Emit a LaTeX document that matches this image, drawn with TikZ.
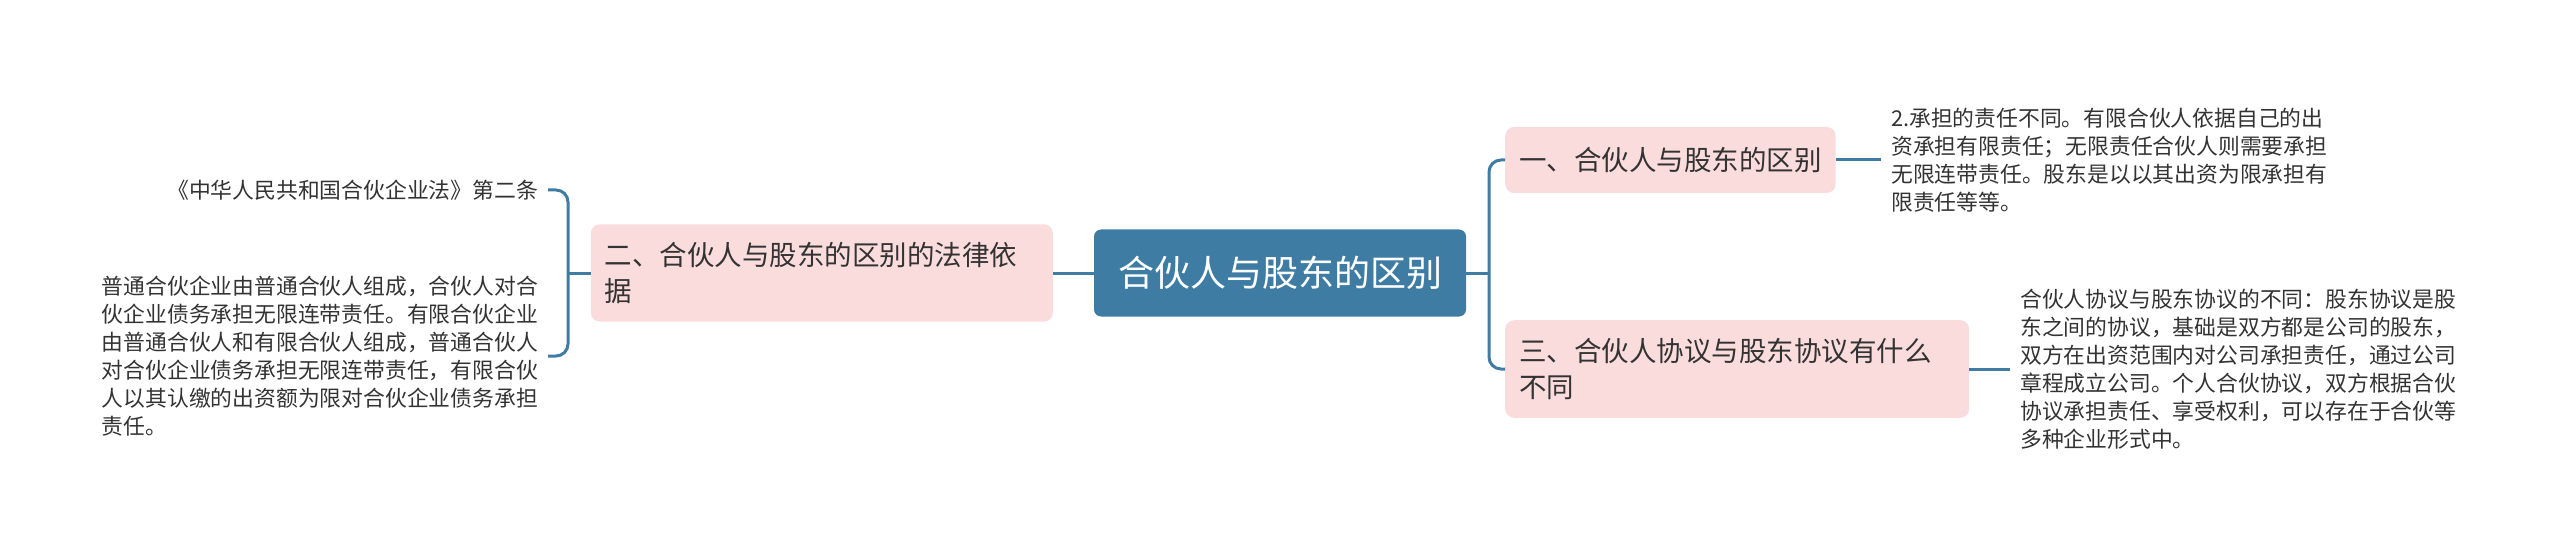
\documentclass[tikz,border=0pt]{standalone}
\usepackage{fontspec}
\usepackage{xcolor}
\usepackage{tikz}
\usetikzlibrary{positioning}
\newfontfamily\cjk{Noto Sans CJK SC}
\definecolor{rootblue}{HTML}{3F7CA4}
\definecolor{branchpink}{HTML}{FBDCDC}
\definecolor{inkgray}{HTML}{333333}

\begin{document}
\begin{tikzpicture}[x=1pt,y=-1pt,
 rootbox/.style={fill=rootblue,text=white,rounded corners=7pt,minimum width=372pt,minimum height=87pt,font=\cjk\fontsize{36}{42}\selectfont},
 branchbox/.style={fill=branchpink,text=inkgray,rounded corners=9pt,align=left,inner xsep=14pt,inner ysep=18pt,font=\cjk\fontsize{27.5}{36}\selectfont},
 leaftext/.style={text=inkgray,align=left,inner xsep=10pt,inner ysep=0pt,font=\cjk\fontsize{21.8}{28}\selectfont},
 conn/.style={draw=rootblue,line width=3pt,rounded corners=12pt}]

\useasboundingbox (0,0) rectangle (2560,556);

\node[rootbox] (root) at (1280,273) {合伙人与股东的区别};

% right side
\coordinate (rj) at (1489,273);
\node[branchbox,anchor=west,minimum height=66pt,inner ysep=14pt] (b1) at (1505,160) {一、合伙人与股东的区别};
\node[branchbox,anchor=west,text width=436pt] (b3) at (1505,369) {三、合伙人协议与股东协议有什么\\不同};
\node[leaftext,anchor=west] (t1) at (1881,160) {2.承担的责任不同。有限合伙人依据自己的出\\资承担有限责任；无限责任合伙人则需要承担\\无限连带责任。股东是以以其出资为限承担有\\限责任等等。};
\node[leaftext,anchor=west] (t3) at (2010,369) {合伙人协议与股东协议的不同：股东协议是股\\东之间的协议，基础是双方都是公司的股东，\\双方在出资范围内对公司承担责任，通过公司\\章程成立公司。个人合伙协议，双方根据合伙\\协议承担责任、享受权利，可以存在于合伙等\\多种企业形式中。};

\draw[conn] (root.east) -- (rj);
\draw[conn] (rj) |- (b1.west);
\draw[conn] (rj) |- (b3.west);
\draw[conn] (b1.east) -- (t1.west);
\draw[conn] (b3.east) -- (t3.west);

% left side
\coordinate (lj) at (568,273);
\node[branchbox,anchor=east,text width=434pt] (b2) at (1053,273) {二、合伙人与股东的区别的法律依\\据};
\node[leaftext,anchor=east,align=right] (l1) at (548,190) {《中华人民共和国合伙企业法》第二条};
\node[leaftext,anchor=east] (l2) at (548,356) {普通合伙企业由普通合伙人组成，合伙人对合\\伙企业债务承担无限连带责任。有限合伙企业\\由普通合伙人和有限合伙人组成，普通合伙人\\对合伙企业债务承担无限连带责任，有限合伙\\人以其认缴的出资额为限对合伙企业债务承担\\责任。};

\draw[conn] (root.west) -- (b2.east);
\draw[conn] (b2.west) -- (lj);
\draw[conn] (lj) |- (l1.east);
\draw[conn] (lj) |- (l2.east);

\end{tikzpicture}
\end{document}
